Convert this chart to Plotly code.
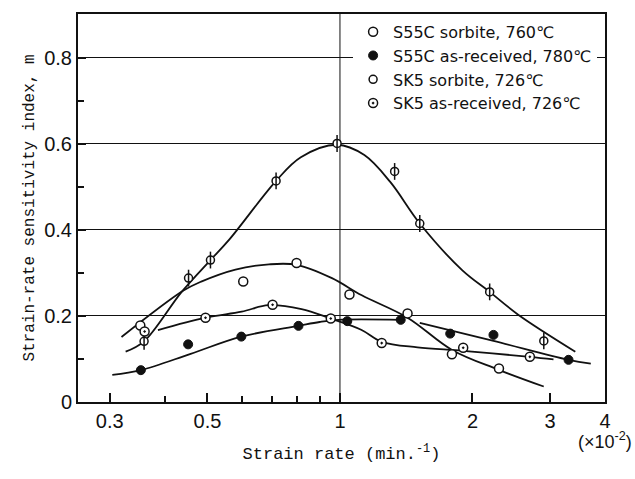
import plotly.graph_objects as go

# ---- measured points ----
s55c_sor_x = [0.352, 0.603, 0.797, 1.051, 1.424, 1.796, 2.297]
s55c_sor_y = [0.178, 0.280, 0.323, 0.250, 0.206, 0.111, 0.078]

s55c_asr_x = [0.353, 0.452, 0.597, 0.805, 1.039, 1.374, 1.780, 2.232, 3.305]
s55c_asr_y = [0.074, 0.134, 0.152, 0.177, 0.188, 0.191, 0.159, 0.156, 0.098]

sk5_sor_x = [0.359, 0.453, 0.508, 0.716, 0.985, 1.331, 1.518, 2.188, 2.904]
sk5_sor_y = [0.141, 0.288, 0.330, 0.514, 0.601, 0.536, 0.415, 0.256, 0.142]

sk5_asr_x = [0.360, 0.495, 0.703, 0.953, 1.244, 1.905, 2.700]
sk5_asr_y = [0.164, 0.196, 0.226, 0.194, 0.137, 0.126, 0.105]

# ---- hand-drawn fitted curves ----
c_sk5_sor_x = [0.326, 0.359, 0.437, 0.508, 0.561, 0.716, 0.815, 0.985, 1.136, 1.302, 1.518, 1.897, 2.188, 2.54, 3.424]
c_sk5_sor_y = [0.117, 0.141, 0.256, 0.330, 0.378, 0.514, 0.569, 0.598, 0.574, 0.511, 0.415, 0.306, 0.256, 0.203, 0.117]

c_s55c_sor_x = [0.319, 0.441, 0.484, 0.579, 0.690, 0.797, 0.959, 1.121, 1.424, 1.797, 2.278, 2.903]
c_s55c_sor_y = [0.151, 0.259, 0.280, 0.308, 0.320, 0.319, 0.288, 0.248, 0.196, 0.121, 0.076, 0.036]

c_sk5_asr_x = [0.386, 0.495, 0.598, 0.688, 0.818, 0.953, 1.117, 1.244, 1.500, 1.905, 2.700, 3.055]
c_sk5_asr_y = [0.167, 0.196, 0.210, 0.225, 0.216, 0.194, 0.168, 0.140, 0.127, 0.119, 0.105, 0.099]

c_s55c_asr_x = [0.304, 0.353, 0.458, 0.597, 0.805, 0.899, 0.992, 1.374, None, 1.518, 2.232, 3.305, 3.713]
c_s55c_asr_y = [0.063, 0.074, 0.112, 0.152, 0.177, 0.186, 0.191, 0.191, None, 0.184, 0.142, 0.098, 0.089]

labels = ["S55C sorbite, 760℃", "S55C as-received, 780℃",
          "SK5 sorbite, 726℃", "SK5 as-received, 726℃"]

x_tickvals = [0.3, 0.5, 1, 2, 3, 4]
x_ticktext = ["0.3", "0.5", "1", "2", "3", "4"]
x_minor = [0.4, 0.6, 0.7, 0.8, 0.9]
y_tickvals = [0, 0.2, 0.4, 0.6, 0.8]
y_ticktext = ["0", "0.2", "0.4", "0.6", "0.8"]
y_minor = [0.1, 0.3, 0.5, 0.7]

BLACK = "#111111"
fig = go.Figure()

curve_style = dict(mode="lines", line=dict(color=BLACK, width=1.8, shape="spline", smoothing=1.0),
                   showlegend=False, hoverinfo="skip")
for cx, cy in [(c_sk5_sor_x, c_sk5_sor_y), (c_s55c_sor_x, c_s55c_sor_y),
               (c_sk5_asr_x, c_sk5_asr_y), (c_s55c_asr_x, c_s55c_asr_y)]:
    fig.add_trace(go.Scatter(x=cx, y=cy, connectgaps=False, **curve_style))

fig.add_trace(go.Scatter(x=s55c_sor_x, y=s55c_sor_y, mode="markers", name=labels[0],
                         marker=dict(symbol="circle", size=9, color="white",
                                     line=dict(color=BLACK, width=1.5))))
fig.add_trace(go.Scatter(x=s55c_asr_x, y=s55c_asr_y, mode="markers", name=labels[1],
                         marker=dict(symbol="circle", size=9, color=BLACK,
                                     line=dict(color=BLACK, width=1))))
# Phi symbol: vertical bar + narrow circle
fig.add_trace(go.Scatter(x=sk5_sor_x, y=sk5_sor_y, mode="markers", name=labels[2],
                         legendgroup="phi",
                         marker=dict(symbol="circle", size=8, color="white",
                                     line=dict(color=BLACK, width=1.5))))
fig.add_trace(go.Scatter(x=sk5_sor_x, y=sk5_sor_y, mode="markers", showlegend=False,
                         legendgroup="phi", hoverinfo="skip",
                         marker=dict(symbol="line-ns-open", size=12, color=BLACK,
                                     line=dict(color=BLACK, width=1.5))))
fig.add_trace(go.Scatter(x=sk5_asr_x, y=sk5_asr_y, mode="markers", name=labels[3],
                         marker=dict(symbol="circle-dot", size=9, color="white",
                                     line=dict(color=BLACK, width=1.5))))

tick_font = dict(family="Liberation Sans, Arial, sans-serif", size=20, color=BLACK)

fig.update_xaxes(type="log", range=[-0.595, 0.602],
                 showline=True, linecolor=BLACK, linewidth=2, mirror=True,
                 tickmode="array", tickvals=x_tickvals, ticktext=x_ticktext,
                 ticks="inside", ticklen=9, tickwidth=1.5, tickcolor=BLACK,
                 minor=dict(tickmode="array", tickvals=x_minor, ticks="inside",
                            ticklen=6, tickwidth=1.5, tickcolor=BLACK, showgrid=False),
                 showgrid=False, zeroline=False, tickfont=tick_font,
                 title=dict(text="Strain rate (min.<sup>-1</sup>)",
                            font=dict(family="Liberation Mono, Courier New, monospace", size=17, color=BLACK),
                            standoff=16))
fig.update_yaxes(range=[0, 0.902],
                 showline=True, linecolor=BLACK, linewidth=2, mirror=True,
                 tickmode="array", tickvals=y_tickvals, ticktext=y_ticktext,
                 ticks="inside", ticklen=8, tickwidth=1.5, tickcolor=BLACK,
                 minor=dict(tickmode="array", tickvals=y_minor, ticks="inside",
                            ticklen=6, tickwidth=1.5, tickcolor=BLACK, showgrid=False),
                 showgrid=True, gridcolor=BLACK, gridwidth=1, zeroline=False,
                 tickfont=tick_font,
                 title=dict(text="Strain-rate sensitivity index, m",
                            font=dict(family="Liberation Mono, Courier New, monospace", size=16, color=BLACK),
                            standoff=6))

# vertical reference line at strain rate 1 (x10^-2)
fig.add_vline(x=1, line=dict(color=BLACK, width=1), layer="below")

fig.add_annotation(text="(×10<sup>-2</sup>)", x=1.0, xref="paper", y=-0.1, yref="paper",
                   xanchor="center", yanchor="middle", showarrow=False,
                   font=dict(family="Liberation Sans, Arial, sans-serif", size=18, color=BLACK))

fig.update_layout(
    width=635, height=479,
    margin=dict(l=78, r=30, t=14, b=77),
    paper_bgcolor="white", plot_bgcolor="white",
    legend=dict(x=0.522, y=0.998, xanchor="left", yanchor="top",
                bgcolor="white", borderwidth=0,
                font=dict(family="DejaVu Sans, sans-serif", size=16, color=BLACK),
                itemwidth=30, tracegroupgap=0),
    showlegend=True,
)

fig.write_html("out.html")
